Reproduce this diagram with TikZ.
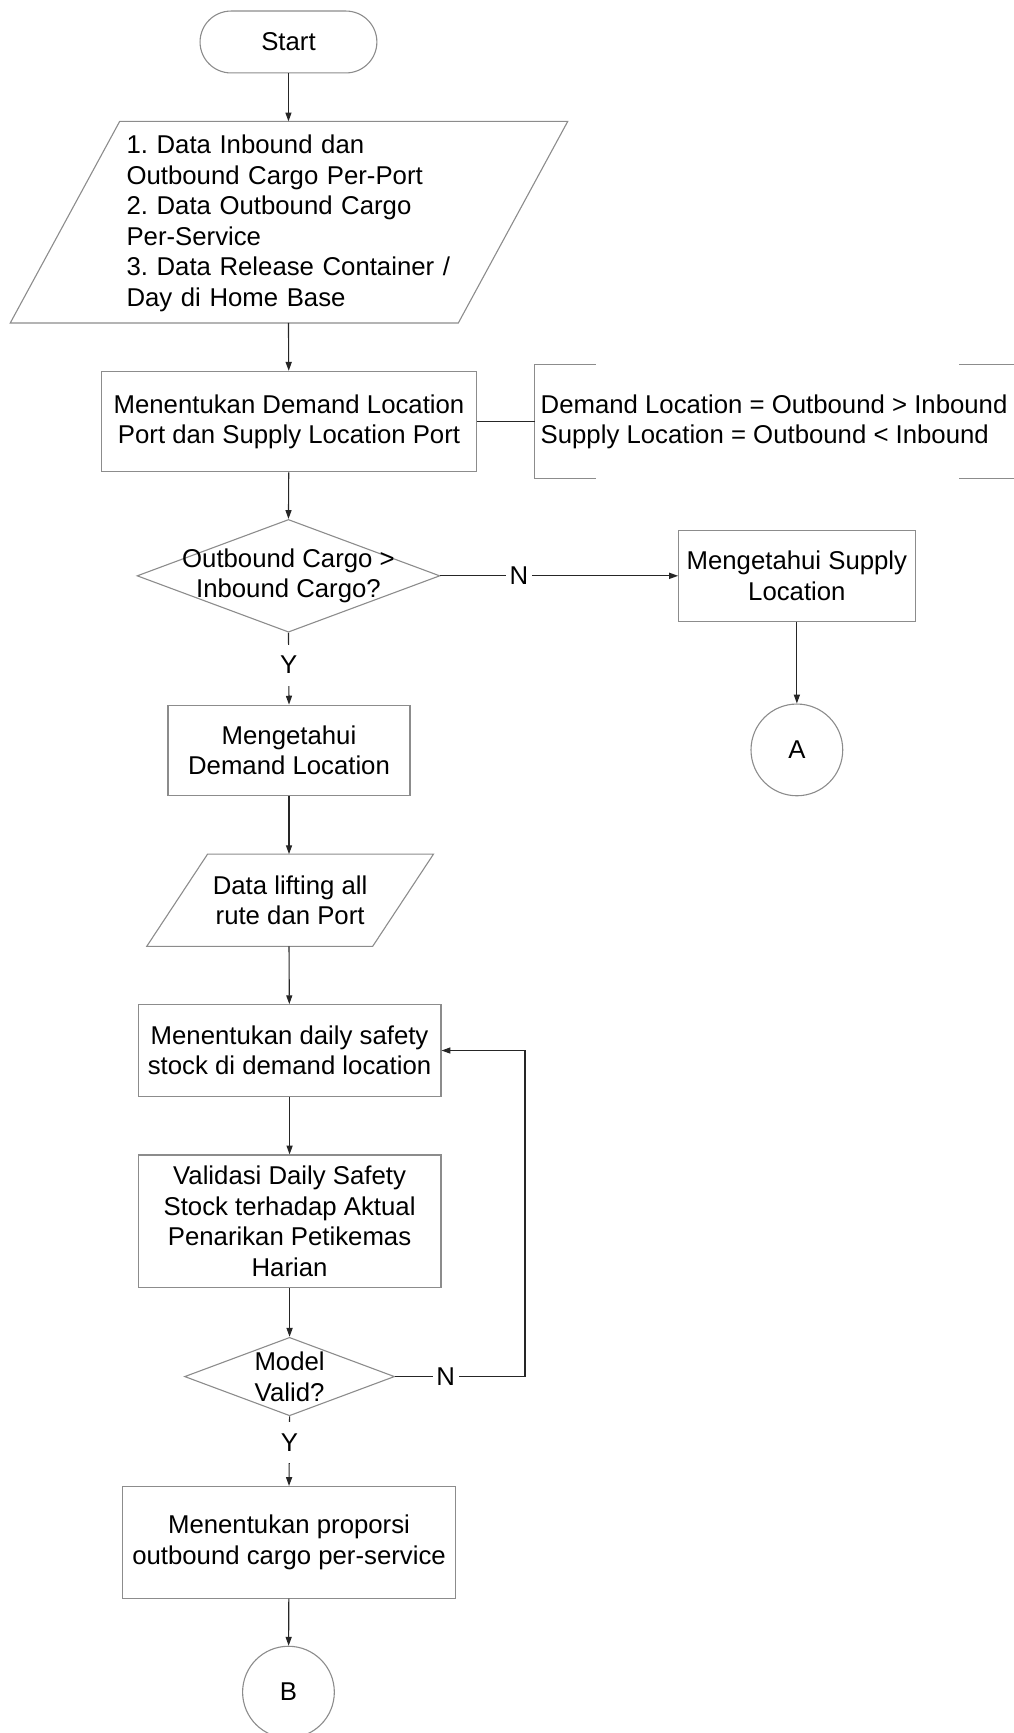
\documentclass[tikz,border=0pt]{standalone}
\usepackage{fontspec}
\setmainfont{Liberation Sans}
\usetikzlibrary{shapes.geometric,arrows.meta,calc}
\frenchspacing

\definecolor{bordercol}{gray}{0.55}
\definecolor{linecol}{gray}{0.15}

\tikzset{
  base/.style={font=\fontsize{23.3}{27.6}\selectfont, text=black, inner sep=0pt},
  box/.style={base, draw=bordercol, line width=1pt, rectangle, align=center},
  outline/.style={draw=bordercol, line width=1pt},
  flow/.style={draw=linecol, line width=1pt, -{Triangle[length=8pt,width=5.5pt]}},
  plain/.style={draw=linecol, line width=1pt},
  lab/.style={base, fill=white, inner xsep=3.5pt, inner ysep=10.5pt},
  decision/.style={outline, diamond, inner sep=0pt},
  connector/.style={box, circle, minimum size=83pt}
}

\begin{document}
\begin{tikzpicture}[x=1pt,y=-1pt]
\useasboundingbox (0,0) rectangle (917,1568);

% terminal
\node[box, rounded corners=28pt, minimum width=160pt, minimum height=56pt] (start) at (261,38) {Start};

% input data
\node[base, minimum height=182pt, text width=294pt, inner xsep=6pt, align=left] (p1) at (261.5,202)
  {1. Data Inbound dan\\Outbound Cargo Per-Port\\2. Data Outbound Cargo\\Per-Service\\3. Data Release Container /\\Day di Home Base};
\draw[outline] ($(p1.north west)+(0,-1)$) -- ($(p1.north east)+(99,-1)$) -- ($(p1.south east)+(0,-1)$) -- ($(p1.south west)+(-99,-1)$) -- cycle;

% demand / supply classification
\node[box, minimum width=339pt, minimum height=91pt] (b1) at (261.5,381.5)
  {Menentukan Demand Location\\Port dan Supply Location Port};

\node[base, anchor=west, minimum height=103pt, inner xsep=5pt, align=left] (ann) at (484,381.5)
  {Demand Location = Outbound > Inbound\\Supply Location = Outbound < Inbound};
\draw[outline] ($(ann.north west)+(55,0)$) -- (ann.north west) -- (ann.south west) -- ($(ann.south west)+(55,0)$);
\draw[outline] ($(ann.north west)+(384,0)$) -- ++(70,0);
\draw[outline] ($(ann.south west)+(384,0)$) -- ++(70,0);

% first decision
\node[decision, minimum width=274pt, minimum height=102pt] (d1) at (261,521) {};
\node[base, align=center] (d1t) at (d1.center) {Outbound Cargo >\\Inbound Cargo?};

\node[box, minimum width=214pt, minimum height=82pt] (s1) at (721,521)
  {Mengetahui Supply\\Location};
\node[connector] (cA) at (721,678.5) {A};

\node[box, minimum width=219pt, minimum height=82pt] (dm) at (261.5,679)
  {Mengetahui\\Demand Location};

% lifting data
\node[base, minimum width=149pt, minimum height=83pt, align=center] (p2) at (262.5,814.5)
  {Data lifting all\\rute dan Port};
\draw[outline] (p2.north west) -- ($(p2.north east)+(55,0)$) -- (p2.south east) -- ($(p2.south west)+(-55,0)$) -- cycle;

\node[box, minimum width=274pt, minimum height=83pt] (ds) at (262,950.5)
  {Menentukan daily safety\\stock di demand location};

\node[box, minimum width=274pt, minimum height=120pt] (v1) at (262,1105)
  {Validasi Daily Safety\\Stock terhadap Aktual\\Penarikan Petikemas\\Harian};

% second decision
\node[decision, minimum width=190pt, minimum height=71pt] (d2) at (262,1245.5) {};
\node[base, align=center] (d2t) at (d2.center) {Model\\Valid?};
\coordinate (loop) at (475,1245.5);

\node[box, minimum width=301pt, minimum height=101pt] (pr) at (261.5,1395.5)
  {Menentukan proporsi\\outbound cargo per-service};
\node[connector] (cB) at (261,1531) {B};

% connectors
\draw[flow] (start) -- ($(start |- p1.north)+(0,-1)$);
\draw[flow] ($(start |- p1.south)+(0,-1)$) -- (b1);
\draw[plain] (b1.east) -- (ann.west);
\draw[flow] (b1) -- (d1.north);
\draw[flow] (d1.east) -- node[lab, pos=0.33] {N} (s1.west);
\draw[flow] (s1) -- (cA);
\draw[flow] (d1.south) -- node[lab, pos=0.45] {Y} (dm.north);
\draw[flow] (dm) -- (dm |- p2.north);
\draw[flow] (dm |- p2.south) -- (ds);
\draw[flow] (ds) -- (v1);
\draw[flow] (v1) -- (d2.north);
\draw[flow] (d2.east) -- node[lab, pos=0.39] {N} (loop) |- (ds.east);
\draw[flow] (d2.south) -- node[lab, pos=0.375] {Y} (pr.north);
\draw[flow] (pr) -- (cB);
\end{tikzpicture}
\end{document}
